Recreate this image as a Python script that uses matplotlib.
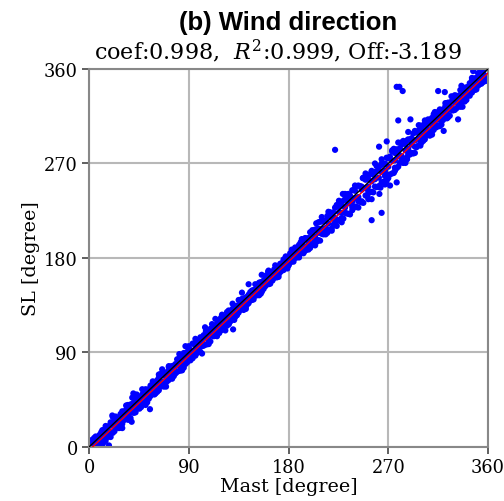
import matplotlib
matplotlib.use("Agg")
import matplotlib.pyplot as plt
import numpy as np

# mast direction grids (deg) and SL deviations (SL - Mast)
mast_grid = [0.5, 3, 6, 9.5, 12, 15, 18, 21.5, 24, 27, 30, 33.5, 36, 39, 42, 45.5,
             48, 51, 54, 57.5, 60, 63, 66, 69.5, 72, 75, 78, 81.5, 84, 87, 90, 93.5,
             96, 99, 102, 105.5, 108, 111, 114, 117.5, 120, 123, 126, 129.5, 132, 135,
             138, 141.5, 144, 147, 150, 153.5, 156, 159, 162, 165.5, 168, 171, 174,
             177.5, 180, 183, 186, 189.5, 192, 195, 198, 201.5, 204, 207, 210, 213.5,
             216, 219, 222, 225.5, 228, 231, 234, 237.5, 240, 243, 246, 249.5, 252,
             255, 258, 261.5, 264, 267, 270, 273.5, 276, 279, 282, 285.5, 288, 291,
             294, 297.5, 300, 303, 306, 309.5, 312, 315, 318, 321.5, 324, 327, 330,
             333.5, 336, 339, 342, 345.5, 348, 351, 354, 357.5]

mast_grid_b = [2, 4.5, 7.5, 11, 13.5, 16.5, 19.5, 23, 25.5, 28.5, 31.5, 35, 37.5, 40.5,
               43.5, 47, 49.5, 52.5, 55.5, 59, 61.5, 64.5, 67.5, 71, 73.5, 76.5, 79.5, 83,
               85.5, 88.5, 91.5, 95, 97.5, 100.5, 103.5, 107, 109.5, 112.5, 115.5, 119,
               121.5, 124.5, 127.5, 131, 133.5, 136.5, 139.5, 143, 145.5, 148.5, 151.5,
               155, 157.5, 160.5, 163.5, 167, 169.5, 172.5, 175.5, 179, 181.5, 184.5,
               187.5, 191, 193.5, 196.5, 199.5, 203, 205.5, 208.5, 211.5, 215, 217.5,
               220.5, 223.5, 227, 229.5, 232.5, 235.5, 239, 241.5, 244.5, 247.5, 251,
               253.5, 256.5, 259.5, 263, 265.5, 268.5, 271.5, 275, 277.5, 280.5, 283.5,
               287, 289.5, 292.5, 295.5, 299, 301.5, 304.5, 307.5, 311, 313.5, 316.5,
               319.5, 323, 325.5, 328.5, 331.5, 335, 337.5, 340.5, 343.5, 347, 349.5,
               352.5, 355.5, 359]

diff_core = [-3, -2, -4, -3, -2, -4, -3, -1, -3, -4, -2, -3, -4, -2, -3, -3, -1, -3, -4, -2,
             -3, -2, -4, -3, -2, -3, -1, -4, -3, -4, -2, -3, -4, -3, -2, -1, -3, -2, -4, -3,
             -2, -3, -3, -4, -3, -1, -2, -4, -3, -2, -3, -4, -2, -3, -4, -2, -3, -4, -2, -3,
             -3, -2, -4, -3, -2, -4, -3, -1, -4, -3, -2, -5, -3, -1, -4, -2, -5, -3, -2, -4,
             -3, -5, -1, -3, -4, -2, -3, -5, -2, -4, -3, -1, -3, -2, -5, -3, -4, -3, -2, -4,
             -3, -2, -4, -3, -2, -3, -4, -2, -3, -4, -2, -3, -2, -3, -4, -3, -3, -2, -3, -4]

diff_upper = [1, 3, 0, 2, 4, 1, 2, 0, 3, 1, 4, 2, 0, 2, 3, 1, 2, 4, 1, 3,
              1, 3, 2, 0, 4, 2, 1, 3, 2, 0, 3, 5, 1, 3, 2, 4, 0, 2, 1, 3,
              3, 1, 4, 2, 2, 0, 3, 1, 1, 2, 0, 3, 0, 1, 2, 1, 2, 0, 1, 3,
              1, 2, 0, 3, 2, 4, 1, 3, 3, 1, 5, 2, 4, 2, 6, 3, 2, 5, 3, 7,
              4, 6, 2, 5, 3, 7, 4, 2, 6, 3, 5, 8, 4, 2, 6, 3, 5, 3, 7, 4,
              3, 5, 2, 4, 2, 4, 1, 3, 4, 2, 3, 1, 2, 3, 1, 4, 3, 1, 2, 3]

diff_lower = [-6, -8, -7, -5, -7, -9, -6, -8, -5, -7, -8, -6, -8, -6, -9, -7, -6, -8, -5, -7,
              -7, -9, -6, -8, -8, -6, -7, -9, -6, -8, -7, -5, -9, -7, -6, -8, -7, -5, -8, -6,
              -8, -6, -9, -7, -6, -7, -5, -8, -7, -5, -6, -7, -5, -6, -7, -6, -6, -7, -5, -6,
              -7, -5, -6, -8, -6, -8, -7, -9, -8, -10, -7, -9, -9, -11, -8, -10, -10, -8, -12, -9,
              -11, -9, -13, -10, -9, -12, -10, -14, -12, -9, -11, -13, -10, -12, -9, -11, -9, -11, -8, -10,
              -8, -10, -7, -9, -7, -9, -8, -6, -8, -6, -9, -7, -7, -8, -6, -8, -6, -7, -8, -6]

diff_wide = [6, -10, 4, -9, -11, 5, -8, 7, 5, -9, -12, 6, -10, 8, 5, -9, 7, -11, -8, 5,
             -9, 6, 8, -12, 5, -10, -8, 7, -11, 9, 6, -9, 7, -8, -13, 5, -10, 6, 8, -9,
             6, -12, -9, 7, -8, 5, 9, -10, 11, -7, 5, -9, -8, 4, 6, -7, 5, -9, -6, 4,
             -7, 5, 4, -9, 6, -8, -10, 5, -12, 7, 9, -11, 8, -13, -10, 9, -14, 10, 7, -12,
             9, -15, -12, 11, -16, 8, 12, -13, 10, -17, -14, 9, -13, 11, 8, -15, 12, -11, -14, 9,
             -10, 8, 6, -12, 7, -9, -11, 6, -10, 7, 5, -9, 8, -10, -7, 6, -8, 5, 7, -9]

diff_mid_hi = [2, 4, 1, 3, 3, 1, 4, 2, 1, 3, 2, 5, 3, 2, 4, 1, 4, 2, 3, 1,
               2, 5, 3, 1, 3, 1, 4, 2, 4, 2, 1, 3, 2, 4, 3, 1, 3, 1, 2, 4,
               2, 4, 1, 3, 1, 3, 2, 0, 2, 1, 3, 2, 1, 3, 0, 2, 1, 2, 3, 1,
               3, 1, 2, 4, 4, 2, 5, 3, 2, 6, 3, 5, 6, 3, 7, 4, 5, 8, 4, 6,
               7, 4, 9, 5, 6, 3, 8, 5, 4, 7, 5, 9, 6, 4, 8, 5, 3, 6, 4, 7,
               5, 2, 4, 6, 3, 5, 2, 4, 2, 4, 3, 5, 4, 2, 3, 1, 2, 4, 1, 3]

diff_mid_lo = [-8, -6, -9, -7, -9, -7, -10, -8, -7, -10, -6, -9, -10, -8, -7, -9, -8, -10, -7, -9,
               -9, -7, -10, -8, -7, -9, -8, -10, -10, -8, -9, -7, -8, -10, -7, -9, -9, -7, -10, -8,
               -7, -9, -8, -10, -8, -6, -9, -7, -6, -8, -7, -9, -7, -5, -8, -6, -8, -6, -7, -9,
               -6, -8, -7, -5, -9, -7, -10, -8, -10, -12, -9, -11, -11, -9, -13, -10, -12, -10, -14, -11,
               -13, -11, -15, -12, -11, -14, -12, -16, -13, -15, -12, -14, -12, -10, -13, -11, -11, -13, -10, -12,
               -10, -8, -11, -9, -9, -11, -8, -10, -10, -8, -9, -11, -8, -10, -9, -7, -9, -7, -8, -10]

# scattered outliers (Mast, SL)
mast_out = [21, 18, 43, 38.5, 55, 40, 104.7, 130, 155.8, 161.6, 205, 222, 229, 247,
            255, 262, 264, 271.6, 255, 261.7, 268.6, 277.6, 279, 287, 290, 299, 320,
            333, 337, 277.6, 280, 283, 315, 321, 332, 346.6]
sl_out = [30, 1.5, 50, 24, 36, 51, 114, 112, 164, 167, 213, 283, 241, 256,
          216, 241, 223, 249, 236, 286, 291, 252, 311, 274, 312, 292, 301,
          312, 324, 343, 343, 339, 339, 338, 334, 358]

coef, r2, off = 0.998, 0.999, -3.189

ma = np.array(mast_grid)
mb = np.array(mast_grid_b)
xs = np.concatenate([ma, ma, ma, ma, mb, mb, mast_out])
ys = np.concatenate([ma + np.array(diff_core), ma + np.array(diff_upper),
                     ma + np.array(diff_lower), ma + np.array(diff_wide),
                     mb + np.array(diff_mid_hi), mb + np.array(diff_mid_lo), sl_out])

plt.rcParams['mathtext.fontset'] = 'dejavuserif'
fig = plt.figure(figsize=(5.04, 5.02), dpi=100)
ax = fig.add_axes([0.1766, 0.1076, 0.7917, 0.753])

ax.scatter(xs, ys, s=20, c='#0000ff', edgecolors='none', zorder=2)
line_x = np.array([0, 360])
ax.plot(line_x, line_x, color='black', lw=1, zorder=3)
ax.plot(line_x, coef * line_x + off, color='red', lw=1, zorder=4)

ax.set_xlim(0, 360)
ax.set_ylim(0, 360)
ticks = [0, 90, 180, 270, 360]
ax.set_xticks(ticks)
ax.set_yticks(ticks)
ax.grid(True, color='#b8b8b8', lw=1.5, zorder=0)
ax.set_axisbelow(True)
for sp in ax.spines.values():
    sp.set_color('#888888')
    sp.set_linewidth(1.5)
ax.tick_params(length=5, width=1.2, color='#444444', labelsize=12.8, pad=3)
for lab in ax.get_xticklabels() + ax.get_yticklabels():
    lab.set_family('DejaVu Serif')
ax.set_xlabel('Mast [degree]', family='DejaVu Serif', fontsize=13.8, labelpad=1)
ax.set_ylabel('SL [degree]', family='DejaVu Serif', fontsize=13.8, labelpad=3)

fig.text(0.571, 1 - 30 / 502, '(b) Wind direction', ha='center', va='baseline',
         family='Liberation Sans', fontweight='bold', fontsize=18.5)
fig.text(0.551, 1 - 60 / 502,
         'coef:%.3f,  $R^2$:%.3f, Off:%.3f' % (coef, r2, off),
         ha='center', va='baseline', family='DejaVu Serif', fontsize=16)

fig.savefig('out.png', dpi=100)
